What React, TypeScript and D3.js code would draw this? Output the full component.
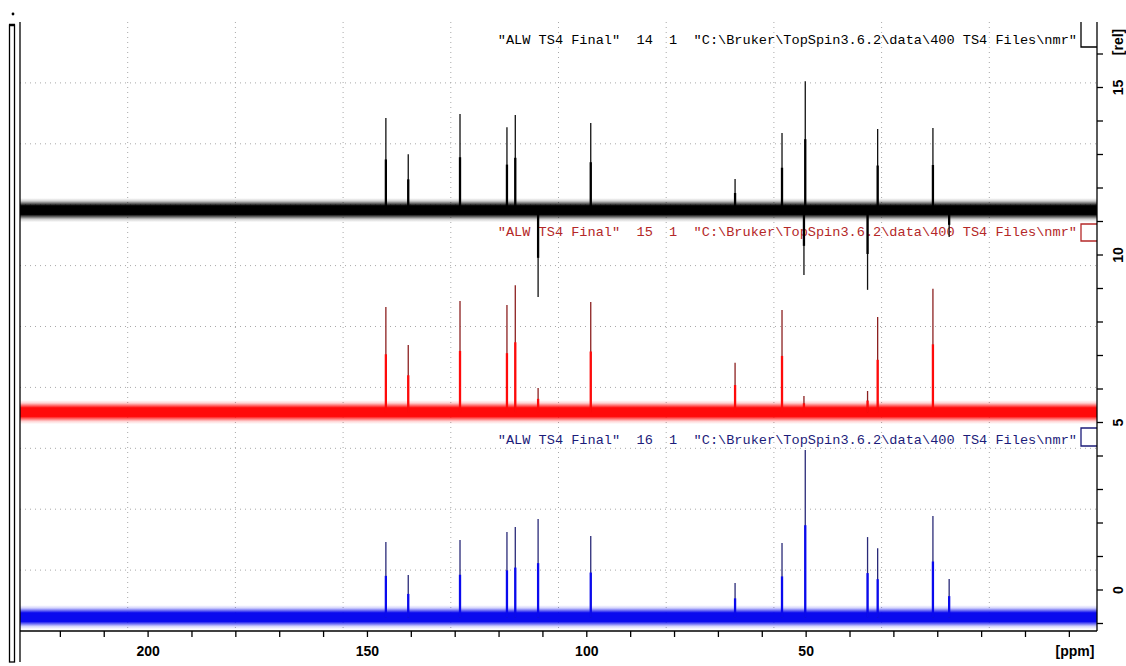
import React from "react";
import * as d3 from "d3";

const W = 1126;
const H = 666;

// axes
const ppmDomain = [229.2, -16.3];
const xMajorTicks = [200, 150, 100, 50];
const xMinorTicks = [220, 210, 200, 190, 180, 170, 160, 150, 140, 130, 120, 110, 100, 90, 80, 70, 60, 50, 40, 30, 20, 10, 0, -10];
const yTicks = [-1, 0, 1, 2, 3, 4, 5, 6, 7, 8, 9, 10, 11, 12, 13, 14, 15, 16];
const yLabels = [15, 10, 5, 0];

// spectrum 14 (black)
const blackBaseline = 11.34;
const blackPeakPpm = [145.8, 140.7, 128.9, 118.2, 116.3, 111.1, 99.1, 66.2, 55.5, 50.2, 50.5, 36.0, 33.7, 21.1, 17.4];
const blackPeakVal = [14.09, 13.01, 14.21, 13.81, 14.18, 8.75, 13.94, 12.27, 13.64, 15.19, 9.4, 8.96, 13.76, 13.79, 10.54];

// spectrum 15 (red)
const redBaseline = 5.31;
const redPeakPpm = [145.8, 140.7, 128.9, 118.2, 116.3, 111.1, 99.1, 66.2, 55.5, 50.5, 36.0, 33.7, 21.1];
const redPeakVal = [8.45, 7.31, 8.63, 8.51, 9.1, 6.03, 8.6, 6.78, 8.36, 5.79, 5.94, 8.15, 8.99];

// spectrum 16 (blue)
const blueBaseline = -0.81;
const bluePeakPpm = [145.8, 140.7, 128.9, 118.2, 116.3, 111.1, 99.1, 66.2, 55.5, 50.2, 36.0, 33.7, 21.1, 17.4];
const bluePeakVal = [1.43, 0.45, 1.49, 1.73, 1.88, 2.12, 1.61, 0.21, 1.4, 4.18, 1.58, 1.25, 2.21, 0.33];

const labelTexts = [
  '"ALW TS4 Final"  14  1  "C:\\Bruker\\TopSpin3.6.2\\data\\400 TS4 Files\\nmr"',
  '"ALW TS4 Final"  15  1  "C:\\Bruker\\TopSpin3.6.2\\data\\400 TS4 Files\\nmr"',
  '"ALW TS4 Final"  16  1  "C:\\Bruker\\TopSpin3.6.2\\data\\400 TS4 Files\\nmr"',
];

const L = 20, R = 1097, T = 22, B = 631;

export default function App() {
  const x = d3.scaleLinear().domain(ppmDomain).range([L, R]);
  const y = d3.scaleLinear().domain([0, 15]).range([590, 87.5]);

  const gridX = d3.range(1, 10).map((i) => L + (i * (R - L)) / 10);
  const gridY = d3.range(1, 10).map((i) => T + (i * (B - T)) / 10);

  const spectra = [
    { id: "b", base: blueBaseline, ppm: bluePeakPpm, val: bluePeakVal, main: "#0a0aee", dark: "#2a2a78", label: labelTexts[2], textColor: "#1c1c7a", ly: 444, box: [428, 446] },
    { id: "r", base: redBaseline, ppm: redPeakPpm, val: redPeakVal, main: "#ff0a0a", dark: "#8c2020", label: labelTexts[1], textColor: "#b42828", ly: 236, box: [224, 241] },
    { id: "k", base: blackBaseline, ppm: blackPeakPpm, val: blackPeakVal, main: "#000000", dark: "#111111", label: labelTexts[0], textColor: "#000000", ly: 44, box: [10, 47] },
  ];

  const band = 12;

  return (
    <svg width={W} height={H} style={{ position: "absolute", left: 0, top: 0, background: "#fff" }}>
      <defs>
        <clipPath id="plot">
          <rect x={L} y={0} width={R - L} height={B} />
        </clipPath>
        {spectra.map((s) => (
          <linearGradient key={"g" + s.id} id={"noise-" + s.id} x1="0" x2="0" y1="0" y2="1">
            <stop offset="0" stopColor={s.main} stopOpacity={0} />
            <stop offset="0.12" stopColor={s.main} stopOpacity={0.18} />
            <stop offset="0.26" stopColor={s.main} stopOpacity={0.75} />
            <stop offset="0.32" stopColor={s.main} stopOpacity={1} />
            <stop offset="0.68" stopColor={s.main} stopOpacity={1} />
            <stop offset="0.74" stopColor={s.main} stopOpacity={0.75} />
            <stop offset="0.88" stopColor={s.main} stopOpacity={0.18} />
            <stop offset="1" stopColor={s.main} stopOpacity={0} />
          </linearGradient>
        ))}
      </defs>
      <rect x={0} y={0} width={W} height={H} fill="#fff" />
      {/* grid */}
      <g stroke="#a8a8a8" strokeWidth={1} strokeDasharray="1,4">
        {gridX.map((gx, i) => (
          <line key={"gx" + i} x1={gx} x2={gx} y1={T} y2={B} />
        ))}
        {gridY.map((gy, i) => (
          <line key={"gy" + i} x1={L} x2={R} y1={gy} y2={gy} />
        ))}
      </g>
      {/* spectra */}
      <g clipPath="url(#plot)">
        {spectra.map((s, si) => {
          const by = y(s.base);
          return (
            <g key={"s" + si}>
              <rect
                x={x(ppmDomain[0])}
                width={x(ppmDomain[1]) - x(ppmDomain[0])}
                y={by - band}
                height={band * 2}
                fill={`url(#noise-${s.id})`}
              />
              {s.ppm.map((p, i) => {
                const px = x(p);
                const ty = y(s.val[i]);
                const my = by + (ty - by) * 0.55;
                return (
                  <g key={"p" + i}>
                    <line x1={px} x2={px} y1={by} y2={ty} stroke={s.dark} strokeWidth={1.3} />
                    <line x1={px} x2={px} y1={by} y2={my} stroke={s.main} strokeWidth={2.3} />
                  </g>
                );
              })}
              <text
                x={1077}
                y={s.ly}
                textAnchor="end"
                fontFamily="'Liberation Mono', 'DejaVu Sans Mono', monospace"
                fontSize={13.6}
                fill={s.textColor}
                style={{ whiteSpace: "pre" }}
                xmlSpace="preserve"
              >
                {s.label}
              </text>
              <path
                d={`M${R},${Math.max(s.box[0], T)} ${s.box[0] >= T ? `H${R - 16}` : `M${R - 16},${T}`} V${s.box[1]} H${R}`}
                stroke={s.textColor}
                strokeWidth={1.3}
                fill="none"
              />
            </g>
          );
        })}
      </g>
      {/* bottom axis */}
      <line x1={L} x2={R} y1={B} y2={B} stroke="#000" strokeWidth={1.3} />
      {xMinorTicks.map((t) => (
        <line key={"xt" + t} x1={x(t)} x2={x(t)} y1={B} y2={B + 6} stroke="#000" strokeWidth={1.3} />
      ))}
      {xMajorTicks.map((t) => (
        <text key={"xl" + t} x={x(t)} y={656} textAnchor="middle" fontFamily="'Liberation Sans', Arial, sans-serif" fontWeight="bold" fontSize={14}>
          {t}
        </text>
      ))}
      <text x={1075} y={656} textAnchor="middle" fontFamily="'Liberation Sans', Arial, sans-serif" fontWeight="bold" fontSize={14}>
        [ppm]
      </text>
      {/* right axis */}
      <line x1={R} x2={R} y1={T} y2={B} stroke="#000" strokeWidth={1.3} />
      {yTicks.map((t) => (
        <line key={"yt" + t} x1={R} x2={R + 6} y1={y(t)} y2={y(t)} stroke="#000" strokeWidth={1.3} />
      ))}
      {yLabels.map((t) => (
        <text
          key={"yl" + t}
          transform={`translate(1123,${y(t)}) rotate(-90)`}
          textAnchor="middle"
          fontFamily="'Liberation Sans', Arial, sans-serif"
          fontWeight="bold"
          fontSize={14}
        >
          {t}
        </text>
      ))}
      <text transform={`translate(1123,42) rotate(-90)`} textAnchor="middle" fontFamily="'Liberation Sans', Arial, sans-serif" fontWeight="bold" fontSize={14}>
        [rel]
      </text>
      {/* left frame decorations */}
      <line x1={L} x2={L} y1={T} y2={662} stroke="#000" strokeWidth={1.3} />
      <rect x={9.5} y={25} width={5} height={637} fill="none" stroke="#000" strokeWidth={1.3} />
      <line x1={9} x2={15} y1={25} y2={25} stroke="#000" strokeWidth={2.5} />
      <circle cx={13} cy={14} r={1.4} fill="#000" />
    </svg>
  );
}
